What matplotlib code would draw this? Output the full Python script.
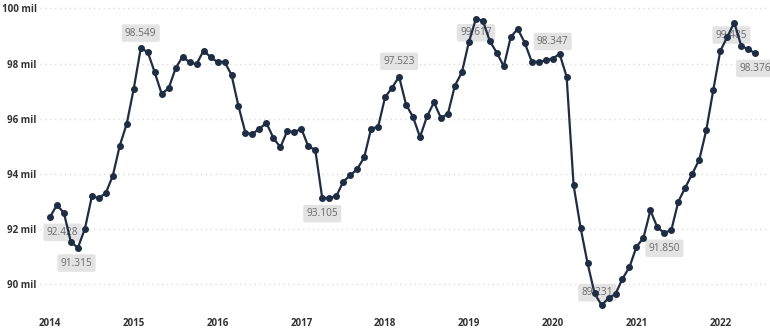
import numpy as np
import matplotlib.pyplot as plt

plt.rcParams['font.family'] = ['Open Sans', 'DejaVu Sans']

# monthly values, Jan 2014 .. Jun 2022 (thousands)
values = [
    92.428, 92.87, 92.57, 91.52, 91.315, 92.0, 93.18, 93.12, 93.30, 93.93, 95.02, 95.82,
    97.09, 98.549, 98.42, 97.68, 96.90, 97.10, 97.83, 98.25, 98.04, 97.98, 98.47, 98.23,
    98.05, 98.06, 97.59, 96.45, 95.48, 95.44, 95.64, 95.84, 95.30, 94.96, 95.56, 95.50,
    95.64, 94.99, 94.87, 93.105, 93.12, 93.18, 93.71, 93.94, 94.17, 94.59, 95.64, 95.70,
    96.78, 97.12, 97.523, 96.51, 96.06, 95.33, 96.08, 96.59, 96.02, 96.18, 97.20, 97.68,
    98.78, 99.617, 99.55, 98.81, 98.39, 97.90, 98.96, 99.26, 98.75, 98.07, 98.06, 98.11,
    98.18, 98.347, 97.52, 93.58, 92.04, 90.75, 89.66, 89.231, 89.48, 89.64, 90.19, 90.61,
    91.35, 91.67, 92.67, 92.05, 91.850, 91.96, 92.99, 93.50, 94.00, 94.51, 95.58, 97.03,
    98.45, 98.96, 99.485, 98.65, 98.51, 98.376,
]
years = [2014, 2015, 2016, 2017, 2018, 2019, 2020, 2021, 2022]
y_ticks = [90, 92, 94, 96, 98, 100]

# labelled points: month index, label text, offset in points (dx, dy)
label_idx = [0, 4, 13, 39, 50, 61, 73, 79, 88, 98, 101]
label_txt = ["92.428", "91.315", "98.549", "93.105", "97.523", "99.617",
             "98.347", "89.231", "91.850", "99.485", "98.376"]
label_off = [(9, -11), (-1, -11), (0, 11), (0, -11), (0, 11), (0, -10),
             (-5, 9), (-3, 9), (0, -11), (-2, -9), (0, -11)]

x = np.arange(len(values))
navy = "#1e2d44"

fig = plt.figure(figsize=(7.7, 3.34), dpi=100)
ax = fig.add_axes([0.0513, 0.059, 0.943, 0.92])

ax.plot(x, values, color=navy, lw=1.6, marker="o", ms=4.0, zorder=3)

for i, t, (dx, dy) in zip(label_idx, label_txt, label_off):
    ax.annotate(t, (x[i], values[i]), xytext=(dx, dy), textcoords="offset points",
                ha="center", va="center", fontsize=7.3, color="#6a6a6a", zorder=2,
                bbox=dict(boxstyle="round,pad=0.32,rounding_size=0.2",
                          fc="#e3e3e3", ec="none"))

ax.set_xlim(-1.5, 102.5)
ax.set_ylim(88.9, 100.05)
ax.set_xticks([12 * k for k in range(len(years))])
ax.set_xticklabels([str(y) for y in years])
ax.set_yticks(y_ticks)
ax.set_yticklabels([f"{v} mil" for v in y_ticks])
ax.tick_params(length=0, labelsize=7, colors="#333333", pad=2)
for lab in ax.get_xticklabels() + ax.get_yticklabels():
    lab.set_fontweight("bold")
ax.tick_params(axis="x", pad=3)

ax.grid(axis="y", color="#dddddd", linestyle=(0, (1, 2.5)), lw=1.0)
ax.set_axisbelow(True)
for s in ax.spines.values():
    s.set_visible(False)

fig.savefig("out.png", dpi=100)
